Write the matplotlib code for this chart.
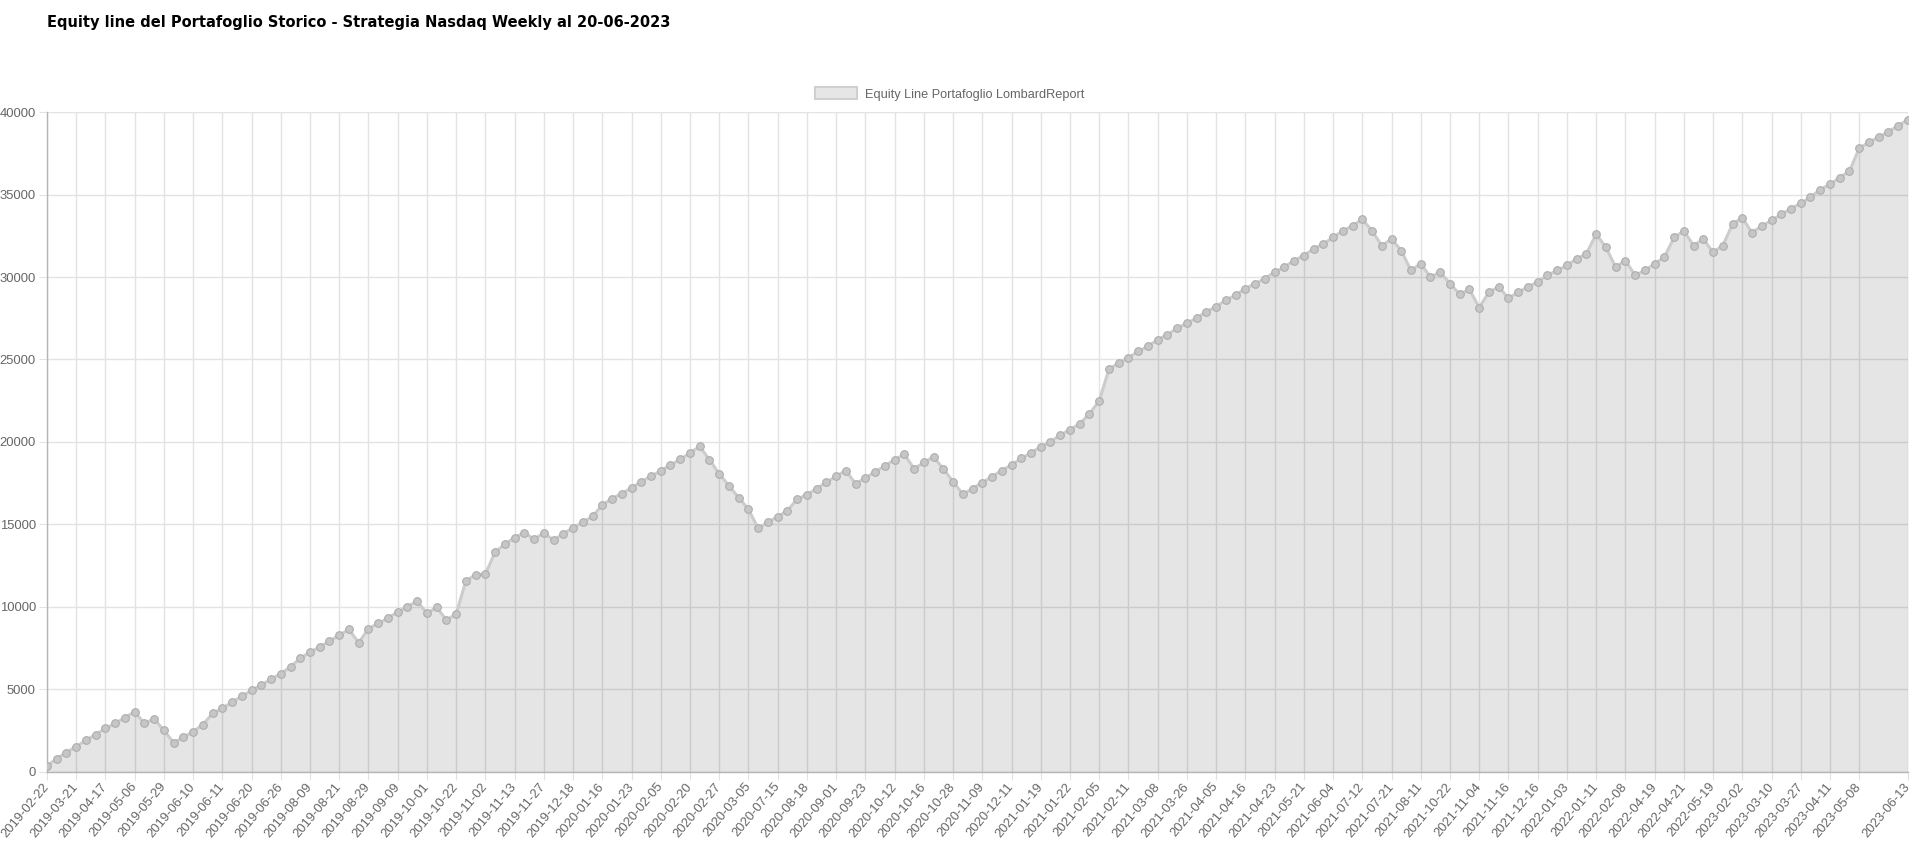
import matplotlib
matplotlib.use('Agg')
import matplotlib.pyplot as plt
from matplotlib.patches import Patch

# --- dati ---
title = 'Equity line del Portafoglio Storico - Strategia Nasdaq Weekly al 20-06-2023'
legend_label = 'Equity Line Portafoglio LombardReport'

equity = [
    350, 810, 1180, 1540, 1910, 2270, 2640, 2940, 3290, 3650,
    2940, 3220, 2520, 1780, 2090, 2450, 2860, 3550, 3850, 4240,
    4580, 4950, 5270, 5620, 5960, 6370, 6890, 7260, 7580, 7930,
    8290, 8640, 7830, 8680, 9000, 9330, 9690, 10020, 10360, 9610,
    9980, 9210, 9570, 11580, 11960, 11980, 13340, 13790, 14210, 14500,
    14110, 14480, 14050, 14440, 14800, 15130, 15490, 16180, 16570, 16870,
    17220, 17600, 17920, 18250, 18610, 18940, 19340, 19730, 18920, 18070,
    17340, 16630, 15920, 14760, 15150, 15470, 15840, 16530, 16810, 17170,
    17560, 17920, 18270, 17460, 17820, 18190, 18550, 18920, 19260, 18370,
    18760, 19100, 18370, 17600, 16830, 17170, 17540, 17900, 18270, 18610,
    19000, 19340, 19710, 20010, 20420, 20740, 21110, 21700, 22500, 24400,
    24800, 25100, 25500, 25800, 26200, 26500, 26900, 27200, 27500, 27900,
    28200, 28600, 28900, 29300, 29600, 29900, 30300, 30600, 31000, 31300,
    31700, 32000, 32400, 32800, 33100, 33500, 32800, 31900, 32300, 31600,
    30400, 30800, 30000, 30300, 29600, 28950, 29250, 28150, 29080, 29400,
    28710, 29080, 29400, 29700, 30100, 30400, 30700, 31100, 31400, 32600,
    31800, 30600, 31000, 30100, 30400, 30800, 31200, 32400, 32800, 31900,
    32300, 31500, 31900, 33200, 33590, 32680, 33090, 33430, 33790, 34150,
    34460, 34840, 35300, 35610, 36030, 36410, 37800, 38170, 38470, 38810,
    39170, 39540,
]

# etichette visibili sull'asse x (una ogni 3 settimane + l'ultima)
tick_labels = [
    '2019-02-22', '2019-03-21', '2019-04-17', '2019-05-06', '2019-05-29',
    '2019-06-10', '2019-06-11', '2019-06-20', '2019-06-26', '2019-08-09',
    '2019-08-21', '2019-08-29', '2019-09-09', '2019-10-01', '2019-10-22',
    '2019-11-02', '2019-11-13', '2019-11-27', '2019-12-18', '2020-01-16',
    '2020-01-23', '2020-02-05', '2020-02-20', '2020-02-27', '2020-03-05',
    '2020-07-15', '2020-08-18', '2020-09-01', '2020-09-23', '2020-10-12',
    '2020-10-16', '2020-10-28', '2020-11-09', '2020-12-11', '2021-01-19',
    '2021-01-22', '2021-02-05', '2021-02-11', '2021-03-08', '2021-03-26',
    '2021-04-05', '2021-04-16', '2021-04-23', '2021-05-21', '2021-06-04',
    '2021-07-12', '2021-07-21', '2021-08-11', '2021-10-22', '2021-11-04',
    '2021-11-16', '2021-12-16', '2022-01-03', '2022-01-11', '2022-02-08',
    '2022-04-19', '2022-04-21', '2022-05-19', '2023-02-02', '2023-03-10',
    '2023-03-27', '2023-04-11', '2023-05-08', '2023-06-13',
]
tick_step = 3


def main():
    plt.rcParams['font.family'] = ['Liberation Sans', 'DejaVu Sans']

    fig = plt.figure(figsize=(19.15, 8.46), dpi=100)
    ax = fig.add_axes([0.0245, 0.0875, 0.9718, 0.7801])

    x = list(range(len(equity)))
    ticks = list(range(0, tick_step * (len(tick_labels) - 1), tick_step)) + [len(equity) - 1]

    grid_c = '#e3e3e3'
    for t in ticks:
        ax.axvline(t, color=grid_c, lw=1, zorder=0)
    for v in range(0, 40001, 5000):
        ax.axhline(v, color=grid_c, lw=1, zorder=0)

    # area + linea + punti
    ax.fill_between(x, equity, 0, color='black', alpha=0.1, lw=0, zorder=1)
    ax.plot(x, equity, color='#cccccc', lw=2.2, zorder=2)
    ax.plot(x, equity, ls='none', marker='o', ms=5.5, mfc='#c6c6c6',
            mec='#adadad', mew=0.8, zorder=3)

    ax.set_xlim(0, len(equity) - 1)
    ax.set_ylim(0, 40000)
    ax.set_yticks(range(0, 40001, 5000))
    ax.set_xticks(ticks)
    ax.set_xticklabels(tick_labels, rotation=50, ha='right',
                       rotation_mode='anchor', va='center')

    ax.tick_params(axis='both', colors=grid_c, labelcolor='#666666',
                   labelsize=9.4, length=6)
    ax.tick_params(axis='x', pad=3)
    ax.tick_params(axis='y', pad=2)
    for s in ['top', 'right']:
        ax.spines[s].set_visible(False)
    for s in ['left', 'bottom']:
        ax.spines[s].set_color('#b5b5b5')
        ax.spines[s].set_linewidth(1)
    ax.set_facecolor('white')

    # titolo e legenda
    fig.text(47 / 1915, 1 - 22 / 846, title, fontsize=10.5, fontweight='bold',
             family='DejaVu Sans', va='center', ha='left', color='black')
    handle = Patch(facecolor='#e6e6e6', edgecolor='#d0d0d0', lw=1.5)
    fig.legend([handle], [legend_label], loc='center', bbox_to_anchor=(0.496, 1 - 94 / 846),
               frameon=False, fontsize=9.2, labelcolor='#666666',
               handlelength=3.3, handleheight=1.0, handletextpad=0.6)

    plt.savefig('out.png', dpi=100)


main()
